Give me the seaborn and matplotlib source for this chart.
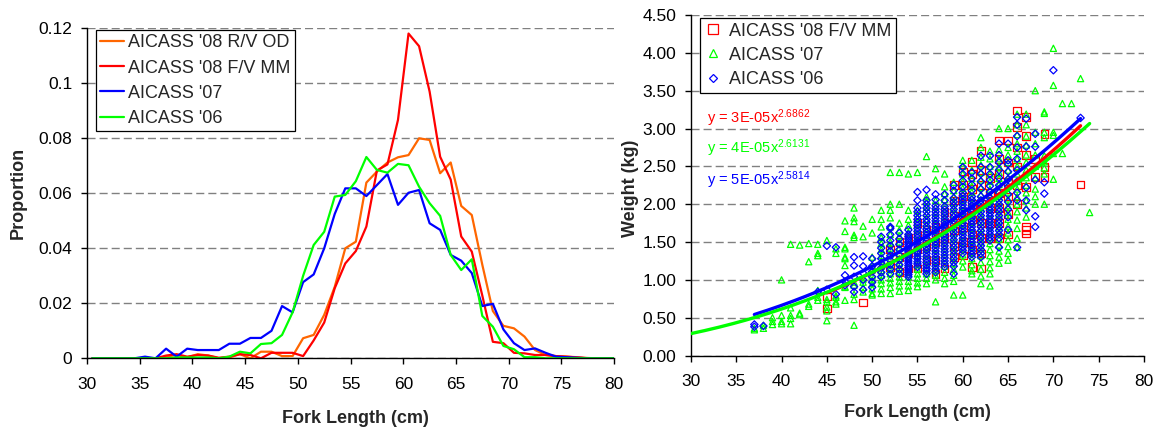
import numpy as np
import pandas as pd
import matplotlib
matplotlib.use("Agg")
import matplotlib.pyplot as plt
import seaborn as sns
from matplotlib.lines import Line2D

# ---------------- Length-frequency (left panel) ----------------
# proportions per 1-cm length bin, plotted at the bin centres 30.5 ... 80.5
bin_centres = np.arange(30.5, 81.0, 1.0)

prop_08_rv_od = [0, 0, 0, 0, 0, 0, 0,
                 0.0006, 0.0012, 0.0003, 0.0015, 0.0010, 0.0, 0.0003, 0.0015, 0.0,
                 0.0024, 0.0024, 0.0008, 0.0008, 0.0073, 0.0085, 0.0158, 0.0260,
                 0.0400, 0.0424, 0.0639, 0.0679, 0.0712, 0.0731, 0.0739, 0.0800,
                 0.0794, 0.0673, 0.0712, 0.0554, 0.0521, 0.0340, 0.0172, 0.0118,
                 0.0109, 0.0079, 0.0030, 0.0012, 0.0008, 0.0006, 0.0004,
                 0, 0, 0, 0]

prop_08_fv_mm = [0, 0, 0, 0, 0, 0, 0,
                 0.0010, 0.0015, 0.0006, 0.0012, 0.0010, 0.0002, 0.0006, 0.0015, 0.0012,
                 0.0, 0.0020, 0.0020, 0.0020, 0.0008, 0.0065, 0.0130, 0.0255,
                 0.0345, 0.0390, 0.0479, 0.0683, 0.0705, 0.0867, 0.1181, 0.1135,
                 0.0970, 0.0733, 0.0650, 0.0443, 0.0388, 0.0228, 0.0060, 0.0055,
                 0.0020, 0.0018, 0.0012, 0.0012, 0.0008, 0.0006, 0.0003,
                 0.0001, 0, 0, 0]

prop_07 = [0, 0, 0, 0, 0,
           0.0006, 0.0, 0.0035, 0.0006, 0.0035, 0.0030, 0.0030, 0.0030, 0.0053, 0.0053,
           0.0074, 0.0074, 0.0100, 0.0190, 0.0167, 0.0277, 0.0305, 0.0400, 0.0525,
           0.0618, 0.0618, 0.0590, 0.0630, 0.0670, 0.0558, 0.0602, 0.0612, 0.0491,
           0.0467, 0.0376, 0.0355, 0.0310, 0.0190, 0.0198, 0.0105, 0.0055, 0.0030,
           0.0036, 0.0020, 0.0006, 0.0004, 0.0002,
           0, 0, 0, 0]

prop_06 = [0, 0, 0, 0, 0, 0, 0, 0,
           0.0003, 0.0003, 0.0003, 0.0003, 0.0, 0.0006, 0.0024, 0.0018, 0.0052,
           0.0055, 0.0085, 0.0167, 0.0300, 0.0412, 0.0460, 0.0588, 0.0594, 0.0644,
           0.0732, 0.0685, 0.0675, 0.0707, 0.0702, 0.0624, 0.0564, 0.0518, 0.0376,
           0.0321, 0.0360, 0.0154, 0.0115, 0.0045, 0.0033, 0.0004, 0.0004,
           0, 0, 0, 0, 0, 0, 0, 0]

lf_labels = ["AICASS '08 R/V OD", "AICASS '08 F/V MM", "AICASS '07", "AICASS '06"]
lf_colors = ["#FF6600", "#FF0000", "#0000FF", "#00FF00"]

# ---------------- Length-weight (right panel) ----------------
# weight (kg) observations grouped by fork length (cm)
wt_08_fv_mm = {
    45: [0.62, 0.78], 49: [0.70], 52: [1.17, 1.40], 53: [1.10, 1.30, 1.50],
    54: [1.15, 1.35, 1.55], 55: [1.15, 1.40, 1.60, 1.75], 56: [1.26, 1.45, 1.66],
    57: [1.08, 1.26, 1.50, 1.70], 58: [1.15, 1.55, 1.75, 1.90],
    59: [1.30, 1.45, 1.65, 1.85, 2.05, 2.25],
    60: [1.32, 1.50, 1.70, 1.90, 2.10, 2.25, 2.43],
    61: [1.17, 1.40, 1.60, 1.80, 2.00, 2.20, 2.40, 2.56],
    62: [1.15, 1.35, 1.55, 1.75, 2.00, 2.25, 2.45, 2.71],
    63: [1.55, 1.75, 1.95, 2.15, 2.35],
    64: [1.55, 1.75, 1.95, 2.15, 2.40, 2.60, 2.84],
    65: [1.60, 1.87, 2.10, 2.30, 2.55, 2.84],
    66: [2.00, 2.25, 2.50, 2.75, 3.02, 3.24],
    67: [1.61, 1.66, 1.70, 2.23, 2.65, 2.90, 3.15],
    68: [2.36, 2.60], 69: [2.36, 2.49, 2.93], 73: [2.26],
}

wt_07 = {
    37: [0.34, 0.36], 38: [0.36, 0.40], 39: [0.41, 0.45, 0.50],
    40: [0.42, 0.45, 0.53, 1.00], 41: [0.42, 0.49, 0.53, 0.63, 1.47],
    42: [0.54, 0.56, 1.46], 43: [0.65, 0.68, 1.24, 1.48],
    44: [0.73, 0.77, 0.86, 1.32, 1.35, 1.47],
    45: [0.46, 0.59, 0.64, 0.71, 0.74, 1.52],
    46: [0.68, 0.71, 0.77, 0.79, 1.35, 1.41],
    47: [0.73, 0.90, 0.91, 1.19, 1.28, 1.30, 1.41, 1.43, 1.64, 1.78],
    48: [0.40, 0.74, 0.81, 0.93, 0.97, 1.56, 1.59, 1.77, 1.82, 1.95],
    49: [0.84, 0.90, 0.97, 1.01, 1.57, 1.71],
    50: [0.80, 0.82, 0.88, 0.95, 1.00, 1.05, 1.13, 1.19, 1.30, 1.62, 1.80],
    51: [0.82, 0.88, 0.95, 1.00, 1.06, 1.12, 1.18, 1.25, 1.32, 1.40, 1.48, 1.56,
         1.70, 1.80, 1.92],
    52: [0.82, 0.90, 0.96, 1.02, 1.08, 1.14, 1.20, 1.27, 1.34, 1.42, 1.50, 1.60,
         1.70, 1.82, 1.92, 2.00, 2.42],
    53: [0.85, 0.92, 0.98, 1.04, 1.10, 1.16, 1.22, 1.28, 1.35, 1.42, 1.50, 1.58,
         1.66, 1.75, 2.00, 2.42],
    54: [0.86, 0.92, 0.98, 1.04, 1.10, 1.16, 1.22, 1.28, 1.34, 1.40, 1.47, 1.55,
         1.63, 1.72, 1.80, 1.92, 2.40],
    55: [0.91, 0.96, 1.02, 1.08, 1.14, 1.20, 1.26, 1.32, 1.38, 1.45, 1.52, 1.60,
         1.68, 1.76, 1.84, 1.92, 2.42],
    56: [0.95, 1.02, 1.08, 1.14, 1.20, 1.27, 1.34, 1.41, 1.48, 1.56, 1.64, 1.72,
         1.80, 1.88, 1.96, 2.04, 2.10, 2.63],
    57: [0.71, 1.00, 1.06, 1.12, 1.18, 1.25, 1.32, 1.40, 1.48, 1.56, 1.64, 1.72,
         1.80, 1.88, 1.96, 2.05, 2.32, 2.47],
    58: [0.95, 1.02, 1.10, 1.18, 1.26, 1.34, 1.42, 1.50, 1.58, 1.66, 1.74, 1.82,
         1.90, 1.98, 2.06, 2.14, 2.23, 2.40],
    59: [0.80, 0.98, 1.06, 1.14, 1.22, 1.30, 1.38, 1.46, 1.54, 1.62, 1.70, 1.78,
         1.86, 1.94, 2.02, 2.10, 2.18, 2.29],
    60: [0.80, 1.17, 1.25, 1.33, 1.41, 1.49, 1.57, 1.65, 1.73, 1.81, 1.89, 1.97,
         2.05, 2.13, 2.21, 2.30, 2.40, 2.50, 2.58],
    61: [1.08, 1.12, 1.20, 1.28, 1.36, 1.44, 1.52, 1.60, 1.68, 1.76, 1.84, 1.92,
         2.00, 2.08, 2.16, 2.24, 2.34, 2.45, 2.58],
    62: [0.95, 1.05, 1.14, 1.23, 1.32, 1.41, 1.50, 1.59, 1.68, 1.77, 1.86, 1.95,
         2.04, 2.13, 2.22, 2.32, 2.42, 2.52, 2.62, 2.75, 2.88],
    63: [0.92, 1.08, 1.16, 1.24, 1.32, 1.40, 1.48, 1.56, 1.64, 1.72, 1.80, 1.88,
         1.96, 2.04, 2.12, 2.20, 2.30, 2.40, 2.50, 2.60, 2.70],
    64: [1.22, 1.30, 1.38, 1.46, 1.54, 1.62, 1.70, 1.78, 1.86, 1.94, 2.02, 2.10,
         2.18, 2.26, 2.34, 2.42, 2.50, 2.60, 2.72, 3.00],
    65: [1.26, 1.35, 1.44, 1.53, 1.62, 1.71, 1.80, 1.89, 1.98, 2.07, 2.16, 2.25,
         2.35, 2.45, 2.55, 2.65, 2.75, 3.00],
    66: [1.43, 1.55, 1.68, 1.79, 1.90, 2.00, 2.10, 2.20, 2.30, 2.40, 2.50, 2.60,
         2.70, 2.80, 2.92, 3.05, 3.19],
    67: [1.83, 1.95, 2.05, 2.15, 2.25, 2.35, 2.45, 2.55, 2.65, 2.78, 2.90, 3.05, 3.19],
    68: [2.00, 2.10, 2.20, 2.35, 2.50, 2.65, 2.80, 2.95, 3.50],
    69: [2.00, 2.40, 2.48, 2.56, 2.64, 2.88, 2.95, 3.20, 3.22],
    70: [2.33, 2.67, 2.91, 2.95, 3.57, 4.06],
    71: [2.67, 3.33], 72: [3.33], 73: [3.66], 74: [1.89],
}

wt_06 = {
    37: [0.38, 0.41], 38: [0.39], 44: [0.84], 45: [0.87, 1.45], 46: [0.81, 1.43],
    47: [0.93, 0.98, 1.06], 48: [0.84, 0.91, 1.04, 1.19, 1.30],
    49: [0.87, 1.00, 1.09, 1.18, 1.31], 50: [0.90, 0.97, 1.04, 1.11, 1.18, 1.28],
    51: [1.04, 1.10, 1.16, 1.22, 1.28, 1.35, 1.42, 1.50, 1.57],
    52: [1.08, 1.14, 1.20, 1.26, 1.32, 1.38, 1.45, 1.52, 1.60, 1.68, 1.70],
    53: [1.08, 1.14, 1.20, 1.26, 1.33, 1.40, 1.47, 1.54, 1.62],
    54: [1.04, 1.07, 1.10, 1.13, 1.16, 1.19, 1.22, 1.25, 1.28, 1.31, 1.34, 1.37,
         1.40, 1.44, 1.47, 1.50, 1.54, 1.57, 1.60, 1.66],
    55: [1.17, 1.21, 1.24, 1.28, 1.31, 1.35, 1.38, 1.42, 1.45, 1.49, 1.52, 1.56,
         1.60, 1.64, 1.68, 1.72, 1.76, 1.80, 1.85, 1.90, 1.95, 2.05, 2.16],
    56: [1.08, 1.12, 1.15, 1.19, 1.23, 1.27, 1.31, 1.35, 1.39, 1.43, 1.47, 1.51,
         1.55, 1.59, 1.63, 1.67, 1.71, 1.76, 1.80, 1.85, 1.90, 1.95, 2.00, 2.05, 2.19],
    57: [1.10, 1.14, 1.18, 1.22, 1.26, 1.30, 1.34, 1.38, 1.42, 1.46, 1.50, 1.54,
         1.58, 1.62, 1.66, 1.70, 1.74, 1.78, 1.82, 1.86, 1.90, 1.94, 1.98, 2.06, 2.13],
    58: [1.17, 1.21, 1.25, 1.29, 1.33, 1.37, 1.41, 1.45, 1.49, 1.53, 1.57, 1.61,
         1.65, 1.69, 1.73, 1.77, 1.81, 1.85, 1.89, 1.93, 1.97, 2.05, 2.13],
    59: [1.08, 1.18, 1.23, 1.28, 1.33, 1.38, 1.43, 1.48, 1.53, 1.58, 1.63, 1.68,
         1.73, 1.78, 1.83, 1.88, 1.93, 1.98, 2.03, 2.08, 2.18, 2.25],
    60: [1.35, 1.39, 1.43, 1.47, 1.51, 1.55, 1.59, 1.63, 1.67, 1.71, 1.75, 1.79,
         1.83, 1.87, 1.91, 1.95, 1.99, 2.03, 2.07, 2.11, 2.15, 2.23, 2.31, 2.40, 2.49],
    61: [1.30, 1.34, 1.38, 1.42, 1.46, 1.50, 1.54, 1.58, 1.62, 1.66, 1.70, 1.74,
         1.78, 1.82, 1.86, 1.90, 1.94, 1.98, 2.02, 2.06, 2.10, 2.18, 2.26, 2.34, 2.42],
    62: [1.30, 1.35, 1.40, 1.45, 1.50, 1.55, 1.60, 1.65, 1.70, 1.75, 1.80, 1.85,
         1.90, 1.95, 2.00, 2.05, 2.10, 2.20, 2.30, 2.40, 2.49, 2.64],
    63: [1.52, 1.56, 1.60, 1.64, 1.68, 1.72, 1.76, 1.80, 1.84, 1.88, 1.92, 1.96,
         2.00, 2.04, 2.08, 2.16, 2.24, 2.32, 2.40, 2.49, 2.64],
    64: [1.43, 1.55, 1.60, 1.65, 1.70, 1.75, 1.80, 1.85, 1.90, 1.95, 2.00, 2.05,
         2.10, 2.15, 2.25, 2.35, 2.45, 2.55, 2.65, 2.80],
    65: [1.66, 1.83, 1.93, 2.03, 2.13, 2.23, 2.33, 2.43, 2.53, 2.58, 2.80],
    66: [1.43, 2.05, 2.15, 2.30, 2.45, 2.60, 2.75, 2.90, 3.05, 3.15],
    67: [1.92, 2.05, 2.22, 2.76, 3.13], 68: [1.70, 1.84, 2.32, 2.76, 2.93],
    69: [2.14, 2.29], 70: [3.77], 73: [3.14],
}

# power-law trend lines: weight = a * length ** b over the fitted length range
# (coefficients shown rounded to one significant figure in the equations)
trend_08 = dict(a=3.0e-05, b=2.6862, lo=45, hi=73)
trend_07 = dict(a=4.0e-05, b=2.6131, lo=30, hi=74)
trend_06 = dict(a=4.85e-05, b=2.5814, lo=37, hi=73)

lw_labels = ["AICASS '08 F/V MM", "AICASS '07", "AICASS '06"]
lw_colors = ["#FF0000", "#00FF00", "#0000FF"]
lw_markers = ["s", "^", "D"]
lw_sizes = [30, 20, 14]

# ---------------- styling ----------------
sns.set_theme(style="ticks")
plt.rcParams.update({
    "font.family": ["Liberation Sans", "DejaVu Sans"],
    "mathtext.fontset": "custom",
    "mathtext.rm": "Liberation Sans",
    "mathtext.it": "Liberation Sans",
    "mathtext.default": "regular",
    "axes.edgecolor": "black",
    "axes.linewidth": 1.0,
    "xtick.color": "black",
    "ytick.color": "black",
    "xtick.direction": "out",
    "ytick.direction": "out",
    "xtick.major.size": 4.5,
    "ytick.major.size": 4.5,
    "xtick.major.width": 1.0,
    "ytick.major.width": 1.0,
    "xtick.major.pad": 9,
    "ytick.major.pad": 6,
    "xtick.labelsize": 12.5,
    "ytick.labelsize": 12.5,
    "axes.labelsize": 13,
    "axes.labelweight": "bold",
    "legend.fontsize": 13,
})

fig = plt.figure(figsize=(11.56, 4.29), dpi=100)
ax1 = fig.add_axes([0.0753, 0.1648, 0.4559, 0.7692])
ax2 = fig.add_axes([0.5977, 0.1713, 0.3919, 0.7937])

grid_kw = dict(axis="y", color="#808080", linewidth=1.0, linestyle=(0, (5.8, 2.9)))

# ---- left: length frequency ----
lf = pd.DataFrame({
    "length": np.tile(bin_centres, 4),
    "proportion": np.concatenate([prop_08_rv_od, prop_08_fv_mm, prop_07, prop_06]),
    "survey": np.repeat(lf_labels, len(bin_centres)),
})
sns.lineplot(data=lf, x="length", y="proportion", hue="survey", hue_order=lf_labels,
             palette=lf_colors, estimator=None, sort=False, linewidth=1.6,
             legend=False, ax=ax1)

ax1.set_xlim(30, 80)
ax1.set_ylim(0, 0.12)
ax1.set_xticks(np.arange(30, 81, 5))
ax1.set_yticks([0, 0.02, 0.04, 0.06, 0.08, 0.10, 0.12])
ax1.set_yticklabels(["0", "0.02", "0.04", "0.06", "0.08", "0.1", "0.12"])
ax1.grid(**grid_kw)
ax1.set_axisbelow(True)
sns.despine(ax=ax1)
ax1.set_xlabel("Fork Length (cm)")
ax1.set_ylabel("Proportion")
ax1.xaxis.set_label_coords(0.509, -0.158)
ax1.yaxis.set_label_coords(-0.114, 0.5)

lf_handles = [Line2D([], [], color=c, lw=1.6) for c in lf_colors]
leg1 = ax1.legend(lf_handles, lf_labels, loc="upper left",
                  bbox_to_anchor=(0.0165, 0.995), borderaxespad=0,
                  fancybox=False, framealpha=1, edgecolor="black",
                  handlelength=1.3, handletextpad=0.25, labelspacing=0.45,
                  borderpad=0.25)
leg1.get_frame().set_linewidth(0.9)

# ---- right: length-weight ----
for wt, lab, col, mk, sz in zip([wt_08_fv_mm, wt_07, wt_06], lw_labels,
                                lw_colors, lw_markers, lw_sizes):
    xs = np.concatenate([[k] * len(v) for k, v in wt.items()])
    ys = np.concatenate([v for v in wt.values()])
    sns.scatterplot(x=xs, y=ys, marker=mk, s=sz, color=col, facecolor="none",
                    edgecolor=col, linewidth=0.9, label=lab, legend=False,
                    ax=ax2, zorder=3)

for tr, col in zip([trend_08, trend_06, trend_07], ["#FF0000", "#0000FF", "#00FF00"]):
    xs = np.linspace(tr["lo"], tr["hi"], 200)
    sns.lineplot(x=xs, y=tr["a"] * xs ** tr["b"], color=col, linewidth=2.4,
                 legend=False, ax=ax2, zorder=4)

eq_texts = [r"y = 3E-05$x^{2.6862}$", r"y = 4E-05$x^{2.6131}$", r"y = 5E-05$x^{2.5814}$"]
eq_y = [3.13, 2.74, 2.32]
for txt, yy, col in zip(eq_texts, eq_y, lw_colors):
    ax2.text(31.8, yy, txt, color=col, fontsize=10.5, va="center", ha="left", zorder=5)

ax2.set_xlim(30, 80)
ax2.set_ylim(0, 4.5)
ax2.set_xticks(np.arange(30, 81, 5))
ax2.set_yticks(np.arange(0, 4.51, 0.5))
ax2.set_yticklabels([f"{v:.2f}" for v in np.arange(0, 4.51, 0.5)])
ax2.grid(**grid_kw)
ax2.set_axisbelow(True)
sns.despine(ax=ax2)
ax2.set_xlabel("Fork Length (cm)")
ax2.set_ylabel("Weight (kg)")
ax2.xaxis.set_label_coords(0.501, -0.142)
ax2.yaxis.set_label_coords(-0.115, 0.49)

lw_handles = [Line2D([], [], linestyle="none", marker=m, markersize=ms,
                     markerfacecolor="none", markeredgecolor=c, markeredgewidth=0.9)
              for m, c, ms in zip(lw_markers, lw_colors, [6.5, 5.5, 4.5])]
leg2 = ax2.legend(lw_handles, lw_labels, loc="upper left",
                  bbox_to_anchor=(0.0199, 0.991), borderaxespad=0,
                  fancybox=False, framealpha=1, edgecolor="black",
                  handlelength=1.0, handletextpad=0.35, labelspacing=0.4,
                  borderpad=0.25)
leg2.get_frame().set_linewidth(0.9)

fig.savefig("out.png", dpi=100)
